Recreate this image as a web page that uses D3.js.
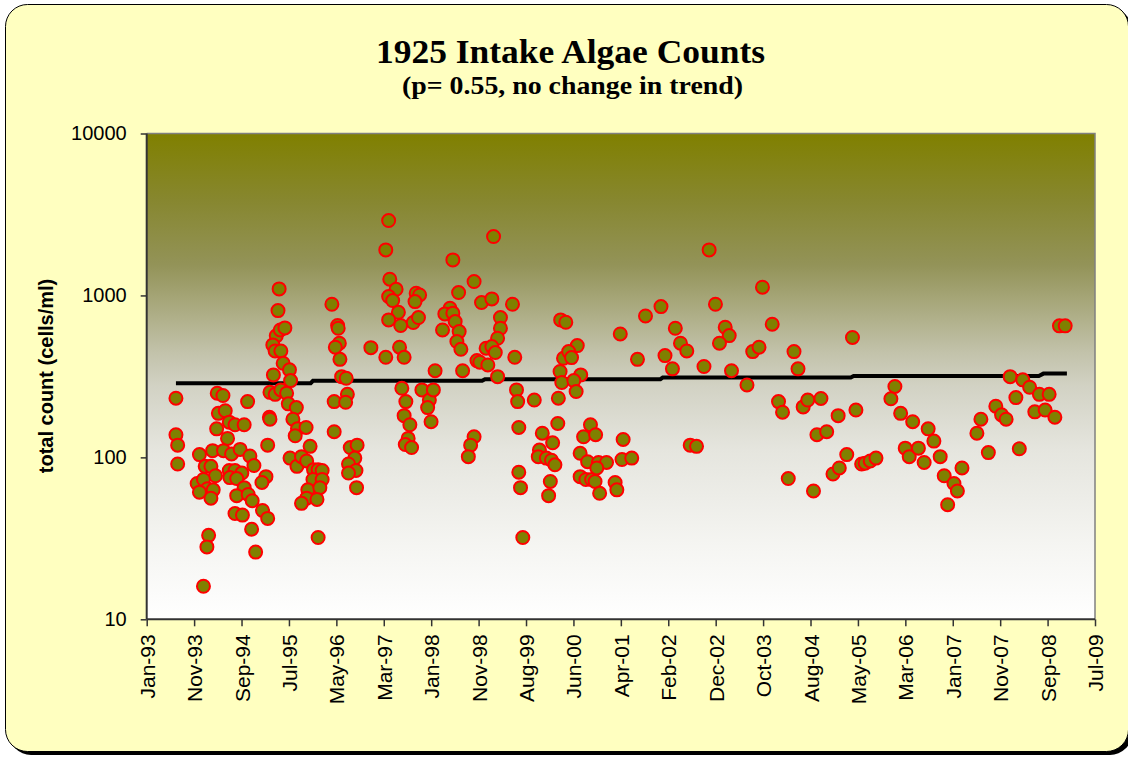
<!DOCTYPE html>
<html>
<head>
<meta charset="utf-8">
<script src="https://cdn.jsdelivr.net/npm/d3@7"></script>
<style>
  html, body { margin: 0; padding: 0; background: #fff; }
  svg { display: block; }
</style>
</head>
<body>
<svg id="chart" width="1128" height="757"></svg>
<script>
// x tick labels
const tickLabels = ['Jan-93', 'Nov-93', 'Sep-94', 'Jul-95', 'May-96', 'Mar-97', 'Jan-98',
  'Nov-98', 'Aug-99', 'Jun-00', 'Apr-01', 'Feb-02', 'Dec-02', 'Oct-03', 'Aug-04',
  'May-05', 'Mar-06', 'Jan-07', 'Nov-07', 'Sep-08', 'Jul-09'];
const yTicks = [10, 100, 1000, 10000];

// samples: [decimal year, total count (cells/ml)]
const samples1993_94 = [
  [1993.51, 232], [1993.51, 138], [1993.54, 119], [1993.54, 91],
  [1993.92, 104], [1994.15, 110], [1994.02, 88], [1994.12, 88], [1994.20, 77],
  [1993.88, 69], [1993.99, 73], [1994.06, 64], [1994.16, 63], [1994.12, 56],
  [1993.92, 61], [1994.08, 33], [1994.05, 28], [1993.99, 16],
  [1994.23, 249], [1994.33, 241], [1994.25, 187], [1994.37, 194], [1994.22, 150],
  [1994.41, 131], [1994.44, 165], [1994.54, 159], [1994.70, 159], [1994.76, 221],
  [1994.34, 110], [1994.48, 105], [1994.63, 112], [1994.80, 102], [1994.87, 89],
  [1994.44, 83], [1994.54, 83], [1994.66, 80], [1994.45, 75], [1994.57, 74],
  [1994.70, 65], [1994.57, 58], [1994.77, 59], [1994.84, 54], [1994.54, 45],
  [1994.67, 44], [1994.83, 36], [1994.90, 26]
];
const samples1995_96 = [
  [1995.31, 1097], [1995.29, 806], [1995.26, 563], [1995.33, 612], [1995.41, 630],
  [1995.20, 495], [1995.24, 454], [1995.34, 454], [1995.38, 381], [1995.49, 347],
  [1995.51, 298], [1995.21, 323], [1995.15, 252], [1995.24, 245], [1995.34, 261],
  [1995.44, 249], [1995.47, 214], [1995.61, 203], [1995.14, 177], [1995.15, 172],
  [1995.55, 172], [1995.63, 150], [1995.59, 136], [1995.78, 153], [1995.11, 119],
  [1995.85, 117], [1995.50, 99], [1995.62, 88], [1995.70, 101], [1995.79, 95],
  [1995.91, 84], [1995.99, 84], [1996.06, 83], [1995.90, 73], [1996.06, 73],
  [1995.81, 63], [1996.02, 65], [1995.79, 56], [1995.97, 55], [1995.70, 52],
  [1995.08, 76], [1995.01, 70], [1995.02, 47], [1995.11, 42], [1995.99, 32],
  [1996.23, 882], [1996.33, 652], [1996.34, 627], [1996.36, 507], [1996.29, 479],
  [1996.37, 403], [1996.40, 315], [1996.48, 308], [1996.50, 245], [1996.27, 221],
  [1996.47, 219], [1996.27, 144], [1996.55, 115], [1996.67, 119], [1996.63, 99],
  [1996.52, 91], [1996.65, 83], [1996.52, 80], [1996.66, 65], [1996.91, 476]
];
const samples1997_98 = [
  [1997.22, 2900], [1997.17, 1910], [1997.24, 1259], [1997.35, 1091], [1997.22, 984],
  [1997.29, 930], [1997.39, 787], [1997.22, 706], [1997.43, 652], [1997.17, 415],
  [1997.41, 479], [1997.49, 415], [1997.45, 267], [1997.52, 221], [1997.49, 181],
  [1997.59, 159], [1997.56, 131], [1997.51, 120], [1997.62, 115], [1998.03, 343],
  [1997.80, 261], [1997.93, 226], [1998.00, 261], [1997.90, 203], [1997.96, 166],
  [1997.70, 1032], [1997.76, 1007], [1997.68, 916], [1997.65, 680], [1997.74, 730],
  [1998.34, 1658], [1998.44, 1042], [1998.29, 833], [1998.20, 769], [1998.34, 777],
  [1998.38, 690], [1998.16, 612], [1998.45, 598], [1998.41, 519], [1998.48, 465],
  [1998.51, 343], [1998.71, 1218], [1998.84, 904], [1999.02, 952], [1999.05, 2310],
  [1999.17, 730], [1999.17, 627], [1999.12, 544], [1998.92, 472], [1999.02, 483],
  [1999.08, 444], [1998.76, 396], [1998.81, 387], [1998.95, 372], [1999.12, 315],
  [1998.71, 134], [1998.65, 119], [1998.61, 101]
];
const samples1999_01 = [
  [1999.38, 882], [1999.42, 415], [1999.45, 261], [1999.47, 221], [1999.76, 226],
  [1999.49, 153], [1999.49, 81], [1999.52, 65], [1999.56, 32], [2000.22, 706],
  [2000.31, 683], [2000.51, 490], [2000.27, 409], [2000.36, 450], [2000.41, 413],
  [2000.21, 339], [2000.24, 290], [2000.57, 323], [2000.45, 298], [2000.49, 255],
  [2000.18, 232], [2000.17, 162], [1999.90, 141], [2000.08, 123], [1999.85, 111],
  [1999.83, 101], [1999.97, 99], [2000.06, 96], [2000.12, 90], [2000.04, 71],
  [2000.01, 58], [2000.74, 159], [2000.62, 134], [2000.83, 138], [2000.56, 106],
  [2000.69, 94], [2000.56, 76], [2000.66, 73], [2000.76, 73], [2000.88, 93],
  [2001.02, 93], [2000.85, 86], [2000.82, 71], [2000.90, 60], [2001.17, 70],
  [2001.20, 63], [2001.26, 578], [2001.31, 129], [2001.29, 97]
];
const samples2001_03 = [
  [2001.46, 99], [2001.56, 403], [2001.70, 747], [2001.97, 853], [2002.04, 425],
  [2002.22, 627], [2002.31, 507], [2002.42, 454], [2002.17, 352], [2002.48, 119],
  [2002.59, 117], [2002.81, 1910], [2002.92, 882], [2002.72, 364], [2003.09, 636],
  [2003.16, 565], [2002.99, 507], [2003.20, 343]
];
const samples2003_05 = [
  [2003.47, 280], [2003.74, 1124], [2003.91, 664], [2003.57, 450], [2003.68, 479],
  [2004.29, 450], [2004.36, 352], [2004.02, 221], [2004.09, 190], [2004.45, 205],
  [2004.53, 226], [2004.76, 231], [2005.06, 181], [2005.37, 196], [2004.69, 138],
  [2004.86, 144], [2004.19, 74], [2004.63, 62], [2005.21, 104], [2004.97, 79],
  [2005.08, 86], [2005.31, 550], [2005.47, 91]
];
const samples2005_09 = [
  [2005.53, 92], [2005.62, 95], [2005.72, 99], [2006.05, 274], [2005.98, 230],
  [2006.15, 187], [2006.36, 166], [2006.63, 150], [2006.73, 126], [2006.23, 114],
  [2006.30, 101], [2006.46, 114], [2006.56, 93], [2006.84, 101], [2006.91, 77],
  [2007.08, 69], [2007.14, 62], [2006.97, 51], [2007.22, 86], [2007.55, 172],
  [2007.48, 141], [2007.68, 107], [2007.81, 207], [2007.91, 183], [2007.99, 172],
  [2008.06, 315], [2008.28, 301], [2008.40, 271], [2008.16, 234], [2008.22, 113],
  [2008.49, 191], [2008.67, 196], [2008.57, 245], [2008.74, 245], [2008.84, 177],
  [2008.92, 649], [2009.02, 649]
];

// trend line (Sen slope, drawn as small steps)
const trendYears = [1993.51, 1995.86, 1995.90, 1998.85, 1998.90, 2001.96, 2002.0, 2005.28, 2005.33, 2008.56, 2008.64, 2009.05];
const trendValues = [287, 287, 297, 297, 304, 304, 311, 311, 318, 318, 329, 329];

const samples = [].concat(samples1993_94, samples1995_96, samples1997_98,
  samples1999_01, samples2001_03, samples2003_05, samples2005_09);

const svg = d3.select('#chart');
const plotLeft = 146.7, plotRight = 1095, plotTop = 133.5, plotBottom = 619.3;
const sans = '"Liberation Sans", Arial, sans-serif';
const serif = '"Liberation Serif", "Times New Roman", serif';

// frame with shadow
svg.append('rect')
  .attr('x', 9).attr('y', 8).attr('width', 1123).attr('height', 747)
  .attr('rx', 22).style('fill', '#000');
svg.append('rect')
  .attr('x', 5.5).attr('y', 4.5).attr('width', 1123).attr('height', 747)
  .attr('rx', 22).style('fill', '#ffffc0').style('stroke', '#000').style('stroke-width', 1);

const defs = svg.append('defs');
const grad = defs.append('linearGradient')
  .attr('id', 'bg').attr('x1', 0).attr('y1', 0).attr('x2', 0).attr('y2', 1);
[[0, '#808000'], [0.14, '#878730'], [0.27, '#939358'], [0.35, '#a8a87c'],
 [0.45, '#c2c2aa'], [0.52, '#d2d2c4'], [0.65, '#e5e5de'], [0.85, '#f5f5f2'], [1, '#ffffff']]
  .forEach(s => grad.append('stop').attr('offset', s[0]).attr('stop-color', s[1]));

svg.append('rect')
  .attr('x', plotLeft).attr('y', plotTop)
  .attr('width', plotRight - plotLeft).attr('height', plotBottom - plotTop)
  .style('fill', 'url(#bg)');
svg.append('path')
  .attr('d', `M${plotLeft},${plotTop}H${plotRight}V${plotBottom}`)
  .style('fill', 'none').style('stroke', '#808080').style('stroke-width', 1.5);

const x = d3.scaleLinear().domain([1993.0, 2009.54]).range([plotLeft, plotRight]);
const y = d3.scaleLog().domain([10, 10000]).range([plotBottom, plotTop]);

const xTicks = d3.range(tickLabels.length)
  .map(i => x.invert(plotLeft + i * (plotRight - plotLeft) / (tickLabels.length - 1)));

const yAxis = svg.append('g')
  .attr('transform', `translate(${plotLeft},0)`)
  .call(d3.axisLeft(y).tickValues(yTicks).tickFormat(d3.format('d')).tickSize(6).tickPadding(14));
yAxis.selectAll('text')
  .style('font-family', sans)
  .style('font-size', '20px').style('fill', '#000');

const xAxis = svg.append('g')
  .attr('transform', `translate(0,${plotBottom})`)
  .call(d3.axisBottom(x).tickValues(xTicks).tickFormat((d, i) => tickLabels[i]).tickSize(7));
xAxis.selectAll('text')
  .attr('transform', 'rotate(-90)')
  .attr('x', -15).attr('y', 0).attr('dy', '0.36em')
  .style('text-anchor', 'end')
  .style('font-family', sans)
  .style('font-size', '21px').style('fill', '#000');

svg.selectAll('.domain').style('stroke', '#333').style('stroke-width', 2);
svg.selectAll('.tick line').style('stroke', '#333').style('stroke-width', 1.5);
xAxis.select('.domain').attr('d', `M${plotLeft},0H${plotRight}`);
yAxis.select('.domain').attr('d', `M0,${plotBottom}V${plotTop}`);

// trend line
svg.append('path')
  .datum(d3.zip(trendYears, trendValues))
  .attr('d', d3.line().x(d => x(d[0])).y(d => y(d[1])))
  .style('fill', 'none').style('stroke', '#000').style('stroke-width', 4);

// data points
svg.append('g')
  .selectAll('circle')
  .data(samples)
  .enter()
  .append('circle')
  .attr('cx', d => x(d[0]))
  .attr('cy', d => y(d[1]))
  .attr('r', 6.5)
  .style('fill', '#808000')
  .style('stroke', '#ff0000')
  .style('stroke-width', 2);

// titles
svg.append('text')
  .attr('x', 376).attr('y', 63)
  .attr('textLength', 389).attr('lengthAdjust', 'spacingAndGlyphs')
  .style('font-family', serif)
  .style('font-weight', 'bold').style('font-size', '34px')
  .text('1925 Intake Algae Counts');
svg.append('text')
  .attr('x', 402).attr('y', 94)
  .attr('textLength', 341).attr('lengthAdjust', 'spacingAndGlyphs')
  .style('font-family', serif)
  .style('font-weight', 'bold').style('font-size', '25px')
  .text('(p= 0.55, no change in trend)');

svg.append('text')
  .attr('transform', 'translate(53,376) rotate(-90)')
  .attr('text-anchor', 'middle')
  .style('font-family', sans)
  .style('font-weight', 'bold').style('font-size', '20px')
  .text('total count (cells/ml)');
</script>
</body>
</html>
